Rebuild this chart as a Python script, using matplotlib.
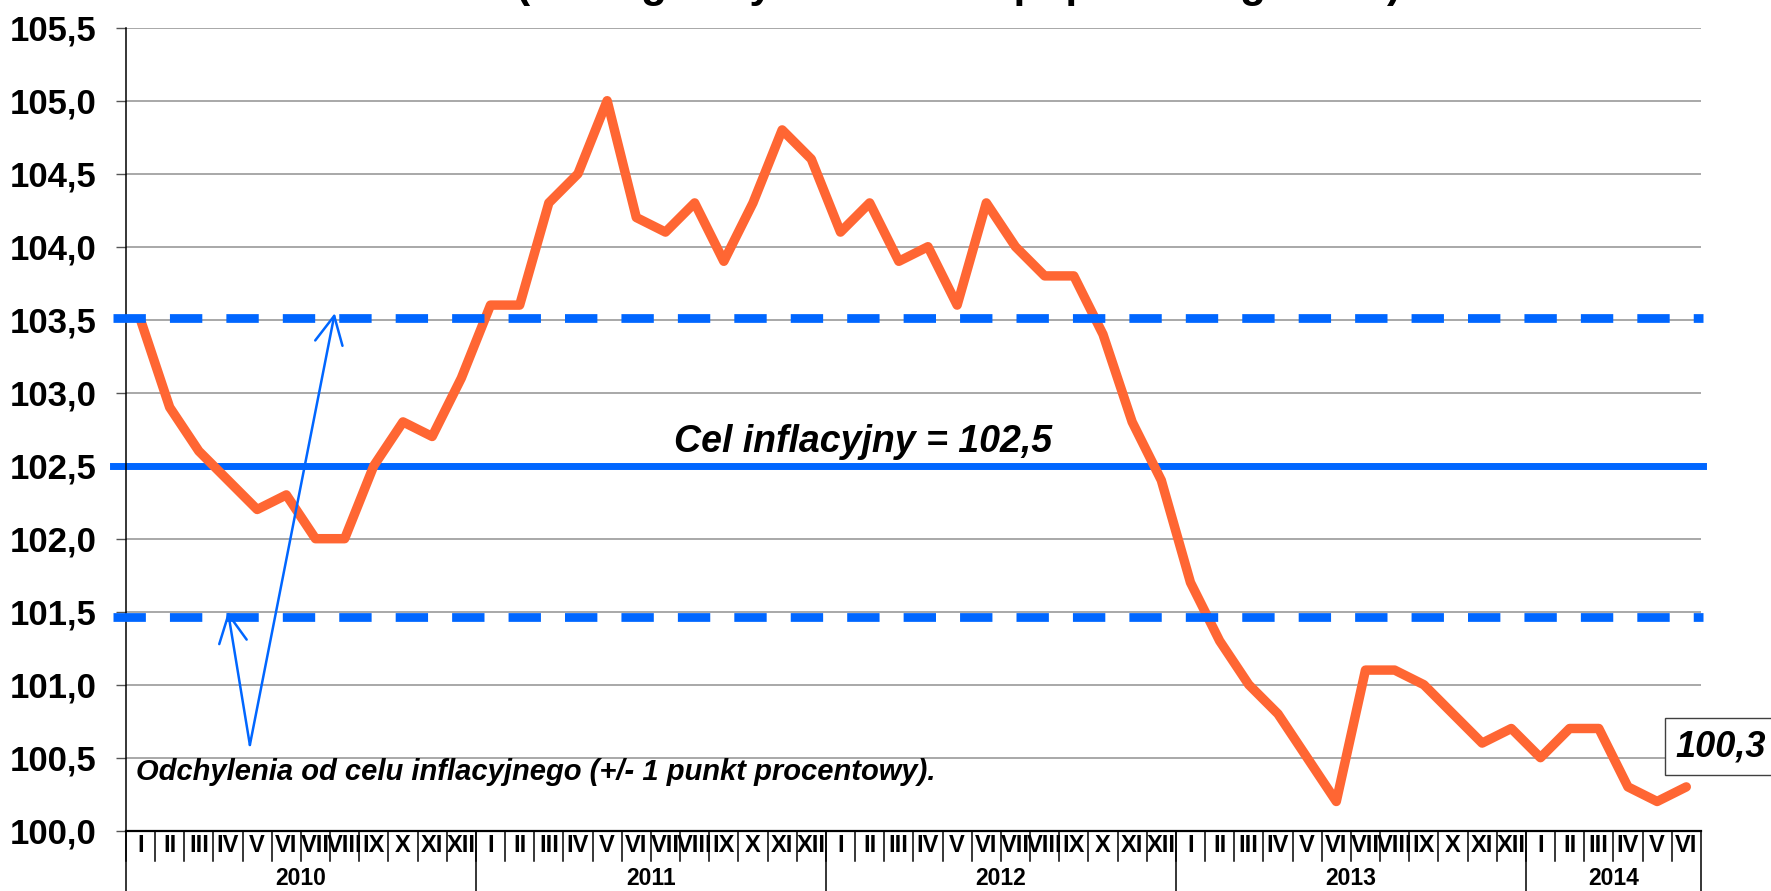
import matplotlib
matplotlib.use("Agg")
from matplotlib import pyplot as plt
from matplotlib import transforms as mtransforms
import numpy as np

plt.rcParams['font.family'] = ['Liberation Sans', 'DejaVu Sans']
plt.rcParams['font.weight'] = 'bold'

# data: CPI, same month previous year = 100
month_names = ['I', 'II', 'III', 'IV', 'V', 'VI', 'VII', 'VIII', 'IX', 'X', 'XI', 'XII']
years = ['2010', '2011', '2012', '2013', '2014']
months_per_year = [12, 12, 12, 12, 6]
cpi = [103.5, 102.9, 102.6, 102.4, 102.2, 102.3, 102.0, 102.0, 102.5, 102.8, 102.7, 103.1,
       103.6, 103.6, 104.3, 104.5, 105.0, 104.2, 104.1, 104.3, 103.9, 104.3, 104.8, 104.6,
       104.1, 104.3, 103.9, 104.0, 103.6, 104.3, 104.0, 103.8, 103.8, 103.4, 102.8, 102.4,
       101.7, 101.3, 101.0, 100.8, 100.5, 100.2, 101.1, 101.1, 101.0, 100.8, 100.6, 100.7,
       100.5, 100.7, 100.7, 100.3, 100.2, 100.3]
target = 102.5
tolerance = 1.0
yticks = [100.0, 100.5, 101.0, 101.5, 102.0, 102.5, 103.0, 103.5, 104.0, 104.5, 105.0, 105.5]

title = "(analogiczny okres roku poprzedniego=100)"
target_label = "Cel inflacyjny = 102,5"
band_label = "Odchylenia od celu inflacyjnego (+/- 1 punkt procentowy)."

ORANGE = '#FF6633'
BLUE = '#0066FF'

month_labels = []
for n in months_per_year:
    month_labels += month_names[:n]
x = np.arange(len(cpi))

fig = plt.figure(figsize=(17.71, 8.91), dpi=100)
ax = fig.add_axes([0.0711, 0.0677, 0.8893, 0.9012])
ax.set_xlim(-0.5, len(cpi) - 0.5)
ax.set_ylim(100.0, 105.5)

# grid + axis styling
ax.set_yticks(yticks)
ax.set_yticklabels([f"{v:.1f}".replace('.', ',') for v in yticks], fontsize=25, fontweight='bold')
ax.yaxis.grid(True, color='#9a9a9a', linewidth=1.2)
ax.set_axisbelow(True)
ax.tick_params(axis='y', length=7, width=1, color='#555555', pad=14)
ax.set_xticks([])
for s in ['top', 'right']:
    ax.spines[s].set_visible(False)
ax.spines['left'].set_linewidth(1.1)
ax.spines['bottom'].set_linewidth(1.6)

# target and tolerance band
x0, x1 = -0.95, len(cpi) - 0.44
ax.plot([x0, x1], [target, target], color=BLUE, lw=5, clip_on=False, zorder=2)
up_tr = mtransforms.offset_copy(ax.transData, fig=fig, y=2, units='dots')
lo_tr = mtransforms.offset_copy(ax.transData, fig=fig, y=-5, units='dots')
ax.plot([x0, x1], [target + tolerance] * 2, color=BLUE, lw=6.3, dashes=(3.7, 2.75),
        solid_capstyle='butt', dash_capstyle='butt', clip_on=False, zorder=4, transform=up_tr)
ax.plot([x0, x1], [target - tolerance] * 2, color=BLUE, lw=6.3, dashes=(3.7, 2.75),
        solid_capstyle='butt', dash_capstyle='butt', clip_on=False, zorder=4, transform=lo_tr)

# CPI line
ax.plot(x, cpi, color=ORANGE, lw=6.8, solid_joinstyle='round', solid_capstyle='round',
        clip_on=False, zorder=3)

# texts
ax.text(24.77, 102.595, target_label, fontsize=27, fontweight='bold', style='italic',
        ha='center', va='baseline', zorder=5)
ax.text(-0.15, 100.347, band_label, fontsize=21, fontweight='bold', style='italic',
        ha='left', va='baseline', zorder=5)
ax.text(52.64, 100.51, f"{cpi[-1]:.1f}".replace('.', ','), fontsize=26, fontweight='bold',
        style='italic', ha='left', va='baseline', zorder=6, clip_on=False,
        bbox=dict(boxstyle='square,pad=0.3', fc='white', ec='#404040', lw=1))

# arrows to the band
for tip in [(3.0, 101.5), (6.66, 103.545)]:
    ax.annotate('', xy=tip, xytext=(3.75, 100.587),
                arrowprops=dict(arrowstyle='->,head_length=0.5,head_width=0.25', color=BLUE,
                                lw=1.8, mutation_scale=40, shrinkA=0, shrinkB=0),
                zorder=6, annotation_clip=False)

# category table under the axis
btr = mtransforms.blended_transform_factory(ax.transData, ax.transAxes)
for i, lab in enumerate(month_labels):
    ax.text(i, -0.0187, lab, transform=btr, fontsize=17, fontweight='bold',
            ha='center', va='center', clip_on=False)
    ax.plot([i - 0.5, i - 0.5], [0, -0.0377], transform=btr, color='black', lw=1.1, clip_on=False)
start = 0
for yr, n in zip(years, months_per_year):
    ax.text(start + n / 2 - 0.5, -0.0600, yr, transform=btr, fontsize=16.5, fontweight='bold',
            ha='center', va='center', clip_on=False)
    ax.plot([start - 0.5, start - 0.5], [0, -0.08], transform=btr, color='black', lw=1.1, clip_on=False)
    start += n
ax.plot([start - 0.5, start - 0.5], [0, -0.08], transform=btr, color='black', lw=1.1, clip_on=False)

# title (mostly cut off at the top edge, as in the source)
fig.text(0.5415, 1.0035, title, fontsize=30.5, fontweight='bold', ha='center', va='baseline')

fig.savefig("out.png", dpi=100)
